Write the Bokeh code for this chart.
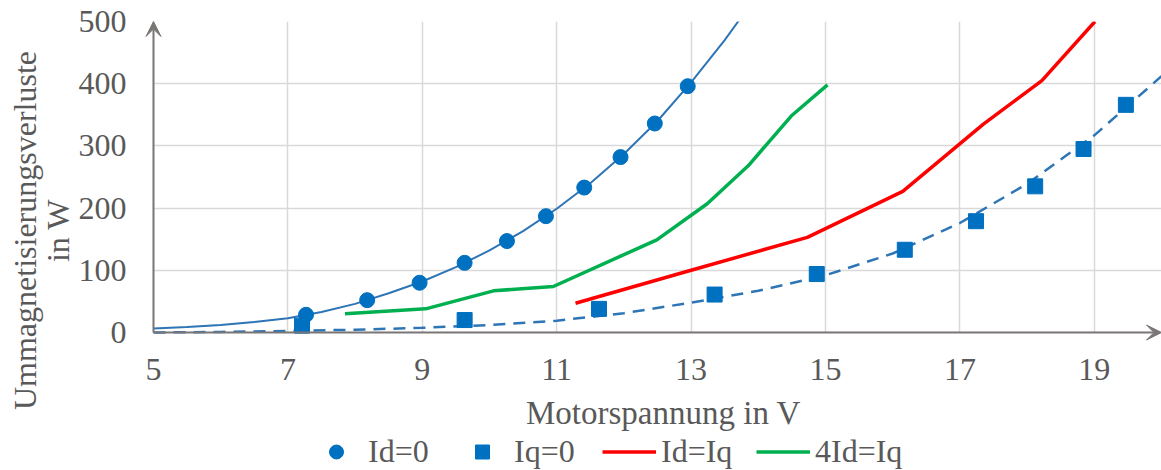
import math
from bokeh.plotting import figure
from bokeh.layouts import row, column
from bokeh.models import (Range1d, FixedTicker, Legend, LegendItem, Label, Arrow, VeeHead,
                          BoxAnnotation)
from bokeh.embed import file_html
from bokeh.resources import INLINE

# ---- data ----
v_id0 = [7.27, 8.18, 8.96, 9.63, 10.26, 10.84, 11.41, 11.95, 12.46, 12.95]
p_id0 = [28.5, 52, 80, 112, 147, 187, 233, 282, 336, 396]

trend_id0_v = [5, 5.5, 6, 6.5, 7, 7.5, 8, 8.5, 9, 9.5, 10, 10.5, 11, 11.5, 12, 12.5, 13, 13.5, 14]
trend_id0_p = [6.5, 9, 12, 17, 23, 33, 46, 63, 82, 105, 132, 163, 199, 240, 287, 340, 402, 470, 545]

v_iq0 = [7.21, 9.63, 11.63, 13.35, 14.87, 16.18, 17.24, 18.12, 18.84, 19.47]
p_iq0 = [11, 20, 38, 61, 94, 133, 179, 235, 295, 366]

trend_iq0_v = [5, 6, 7, 8, 9, 10, 11, 12, 13, 14, 15, 16, 17, 18, 19, 20]
trend_iq0_p = [0, 1, 2.5, 4.5, 7.5, 12, 19, 31, 48, 67, 92, 127, 176, 239, 317, 412]

v_ideq = [11.28, 13.0, 14.73, 16.15, 17.35, 18.22, 19.01]
p_ideq = [47, 100, 153, 227, 335, 405, 500]

v_4id = [7.85, 9.05, 10.06, 10.95, 12.49, 13.24, 13.85, 14.49, 15.03]
p_4id = [30, 38, 67, 74, 149, 207, 268, 348, 398]

x_ticks = [5, 7, 9, 11, 13, 15, 17, 19]
y_ticks = [0, 100, 200, 300, 400, 500]

series_names = ["Id=0", "Iq=0", "Id=Iq", "4Id=Iq"]
y_title = ["Ummagnetisierungsverluste", "in W"]
x_title = "Motorspannung in V"

FONT = "Liberation Serif"
TXT = "#595959"
AXC = "#7a7676"
BLUE = "#0070C0"
TREND = "#2E75B6"
RED = "#FF0000"
GREEN = "#00B050"

# small pad so that the axis arrow heads are not clipped by the frame
PADX = 9 / 67.4
PADY = 9 / 0.622

# ---------- main chart ----------
p = figure(width=1086, height=393, output_backend="svg", toolbar_location=None,
           x_range=Range1d(5 - PADX, 20), y_range=Range1d(0 - PADY, 500),
           min_border_left=66, min_border_right=0, min_border_top=21,
           min_border_bottom=52)
p.outline_line_color = None

p.xaxis.ticker = FixedTicker(ticks=x_ticks)
p.yaxis.ticker = FixedTicker(ticks=y_ticks)
for ax in (p.xaxis[0], p.yaxis[0]):
    ax.axis_line_color = None
    ax.major_tick_line_color = None
    ax.minor_tick_line_color = None
    ax.major_tick_out = 0
    ax.major_tick_in = 0
    ax.major_label_text_font = FONT
    ax.major_label_text_font_size = "32px"
    ax.major_label_text_color = TXT
p.xaxis.major_label_standoff = 17
p.yaxis.major_label_standoff = 18

p.grid.grid_line_color = "#d9d9d9"
p.grid.grid_line_width = 1.5
p.grid.level = "image"

# white masks so grid lines stop at the axes
p.add_layout(BoxAnnotation(top=0, fill_color="white", fill_alpha=1, line_alpha=0, level="underlay"))
p.add_layout(BoxAnnotation(right=5, fill_color="white", fill_alpha=1, line_alpha=0, level="underlay"))

# trendlines
p.line(trend_id0_v, trend_id0_p, line_color=TREND, line_width=2)
p.line(trend_iq0_v, trend_iq0_p, line_color=TREND, line_width=2.5, line_dash="12 8")

p.line(v_ideq, p_ideq, line_color=RED, line_width=3.5)
p.line(v_4id, p_4id, line_color=GREEN, line_width=3.5)
p.scatter(v_id0, p_id0, marker="circle", size=15, fill_color=BLUE, line_color=BLUE)
p.scatter(v_iq0, p_iq0, marker="square", size=15, fill_color=BLUE, line_color=BLUE)

# axis arrows
p.add_layout(Arrow(end=VeeHead(size=15, fill_color=AXC, line_color=AXC, line_width=1),
                   x_start=5, y_start=0, x_end=5, y_end=500,
                   line_color=AXC, line_width=2))
p.add_layout(Arrow(end=VeeHead(size=15, fill_color=AXC, line_color=AXC, line_width=1),
                   x_start=5, y_start=0, x_end=20, y_end=0,
                   line_color=AXC, line_width=2))

# ---------- bottom strip: x title + legend (series drawn out of view) ----------
lg = figure(width=1086, height=77, output_backend="svg", toolbar_location=None,
            x_range=Range1d(0, 1), y_range=Range1d(-2, -1),
            x_axis_location=None, y_axis_location=None,
            min_border_left=0, min_border_right=0, min_border_top=0, min_border_bottom=0)
lg.outline_line_color = None
lg.grid.visible = False
l_c = lg.scatter(v_id0, p_id0, marker="circle", size=15, fill_color=BLUE, line_color=BLUE)
l_s = lg.scatter(v_iq0, p_iq0, marker="square", size=15, fill_color=BLUE, line_color=BLUE)
l_r = lg.line(v_ideq, p_ideq, line_color=RED, line_width=3.5)
l_g = lg.line(v_4id, p_4id, line_color=GREEN, line_width=3.5)

lg.add_layout(Label(x=519, y=58, x_units="screen", y_units="screen",
                    text=x_title, text_align="center", text_baseline="middle",
                    text_font=FONT, text_font_size="33px", text_color=TXT))

entry_x = [165, 311, 458, 612]
for name, rend, ex in zip(series_names, [l_c, l_s, l_r, l_g], entry_x):
    lg.add_layout(Legend(items=[LegendItem(label=name, renderers=[rend])],
                         orientation="horizontal", location=(ex, 0),
                         glyph_width=54, glyph_height=35, label_standoff=5,
                         padding=0, margin=0, border_line_color=None,
                         background_fill_alpha=0,
                         label_text_font=FONT, label_text_font_size="32px",
                         label_text_color=TXT, label_height=35))

# ---------- y title strip ----------
yt = figure(width=75, height=470, output_backend="svg", toolbar_location=None,
            x_range=Range1d(0, 1), y_range=Range1d(0, 1),
            x_axis_location=None, y_axis_location=None,
            min_border_left=0, min_border_right=0, min_border_top=0, min_border_bottom=0)
yt.outline_line_color = None
yt.grid.visible = False
yt.add_layout(Label(x=24, y=240, x_units="screen", y_units="screen",
                    text=y_title[0], angle=math.pi / 2,
                    text_align="center", text_baseline="middle",
                    text_font=FONT, text_font_size="32px", text_color=TXT))
yt.add_layout(Label(x=57, y=240, x_units="screen", y_units="screen",
                    text=y_title[1], angle=math.pi / 2,
                    text_align="center", text_baseline="middle",
                    text_font=FONT, text_font_size="32px", text_color=TXT))

layout = row(yt, column(p, lg, spacing=0), spacing=0)
open("out.html", "w").write(file_html(layout, INLINE))
